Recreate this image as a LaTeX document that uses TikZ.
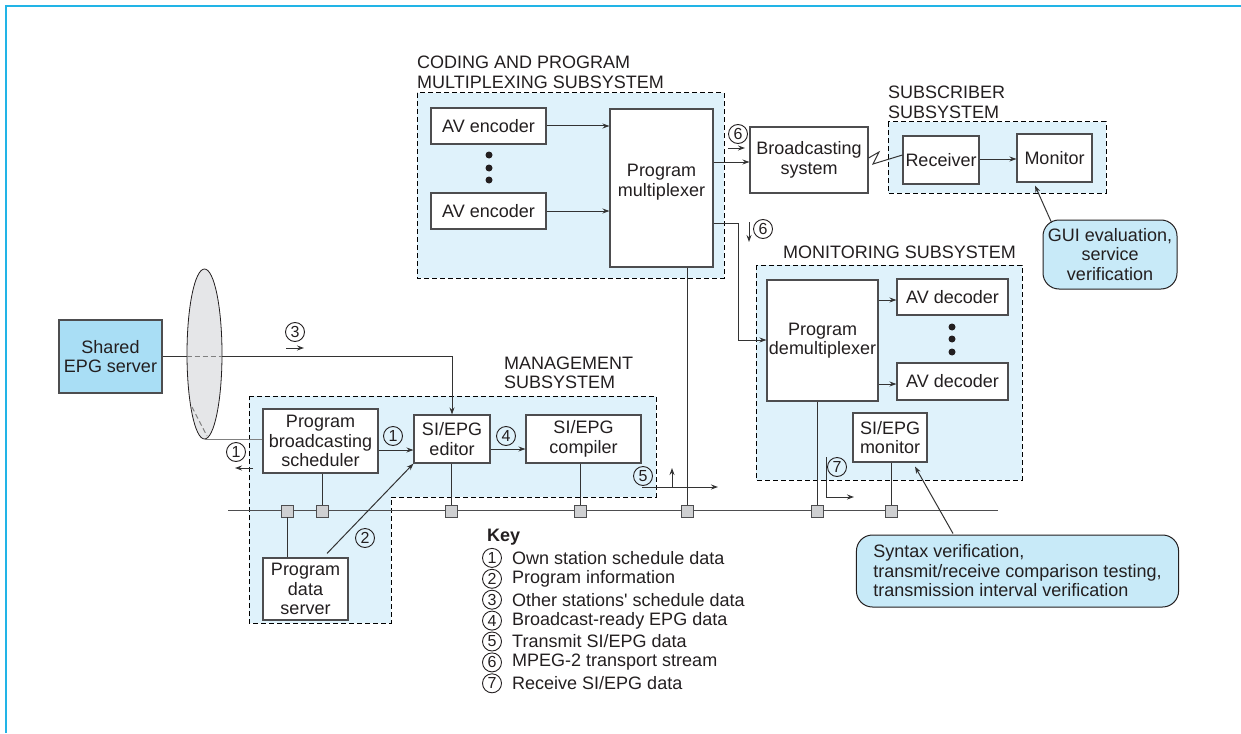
\documentclass[tikz,border=0pt]{standalone}
\usepackage{fontspec}
\setmainfont{Liberation Sans}
\usetikzlibrary{arrows.meta,shapes.geometric,calc}
\definecolor{txt}{HTML}{231F20}
\definecolor{edge}{HTML}{4D4D4F}
\definecolor{wirec}{HTML}{333333}
\definecolor{frame}{HTML}{22B4E6}
\definecolor{regfill}{HTML}{DFF2FB}
\definecolor{srvfill}{HTML}{A9DEF5}
\definecolor{notefill}{HTML}{C8EAF8}
\definecolor{ellfill}{HTML}{E5E6E8}
\definecolor{portfill}{HTML}{CFD0D2}
\begin{document}
\begin{tikzpicture}[x=1pt,y=-1pt,
  every node/.style={text=txt, font=\fontsize{18}{19.5}\selectfont},
  blk/.style={draw=edge, line width=1.1pt, fill=white, inner sep=0pt, align=center},
  region/.style={draw=black, dash pattern=on 5pt off 3pt, line width=1pt, fill=regfill},
  wire/.style={draw=wirec, line width=1pt},
  arr/.style={wire, -{Stealth[length=7pt,width=5pt]}},
  num/.style={circle, draw=txt, line width=0.9pt, inner sep=0pt, minimum size=19pt, font=\fontsize{16}{16}\selectfont},
  port/.style={rectangle, draw=edge, fill=portfill, line width=0.8pt, minimum size=12pt, inner sep=0pt},
  note/.style={rounded corners=16pt, draw=txt, line width=1pt, fill=notefill, inner sep=0pt},
  lbl/.style={anchor=west, align=left, inner sep=0pt},
  dot/.style={circle, fill=txt, inner sep=0pt, minimum size=7pt}
]
\useasboundingbox (0,0) rectangle (1241,733);
% page frame
\draw[frame, line width=2pt] (5.5,733) -- (5.5,6.5) -- (1241,6.5);

% subsystem regions
\path[region] (417,93) rectangle (724,278);
\path[region] (888,122) rectangle (1106,193);
\path[region] (756,265) rectangle (1022,480);
\path[region] (249,396) -- (656,396) -- (656,497) -- (391,497) -- (391,623) -- (249,623) -- cycle;

% subsystem titles
\node[lbl] (tcod) at (417,72.5) {CODING AND PROGRAM\\MULTIPLEXING SUBSYSTEM};
\node[lbl] (tsub) at (888,102.5) {SUBSCRIBER\\SUBSYSTEM};
\node[lbl] (tmon) at (783,252) {MONITORING SUBSYSTEM};
\node[lbl] (tman) at (504,373) {MANAGEMENT\\SUBSYSTEM};

% network bus
\coordinate (busL) at (228,510);
\coordinate (busR) at (998,510);
\draw[wire, draw=edge] (busL) -- (busR);

% shared server link
\node[ellipse, draw=txt, fill=ellfill, line width=0.8pt, minimum width=35pt, minimum height=170pt, inner sep=0pt] (ell) at (204.5,354) {};
\node[blk, fill=srvfill, minimum width=103pt, minimum height=73pt] (epg) at (110.5,356.5) {Shared\\EPG server};

% coding and multiplexing
\node[blk, minimum width=115pt, minimum height=36pt] (enc1) at (488.5,126) {AV encoder};
\node[blk, minimum width=115pt, minimum height=36pt] (enc2) at (488.5,211) {AV encoder};
\node[dot] (d1) at (489,155) {};
\node[dot] (d2) at (489,168) {};
\node[dot] (d3) at (489,180) {};
\node[blk, minimum width=103pt, minimum height=158pt] (mux) at (661.5,188) {Program\\multiplexer\\[-4pt]};
\node[blk, minimum width=118pt, minimum height=66pt] (bcast) at (809,160) {Broadcasting\\system};

% subscriber
\node[blk, minimum width=76pt, minimum height=48pt] (recv) at (941,160) {Receiver};
\node[blk, minimum width=75pt, minimum height=48pt] (moni) at (1054.5,158) {Monitor};
\node[note, align=center, minimum width=134pt, minimum height=69pt] (gui) at (1110,254.5) {GUI evaluation,\\service\\verification};

% monitoring
\node[blk, minimum width=111pt, minimum height=121pt] (demux) at (822.5,340.5) {Program\\demultiplexer};
\node[blk, minimum width=111pt, minimum height=36pt] (dec1) at (952.5,297) {AV decoder};
\node[blk, minimum width=111pt, minimum height=37pt] (dec2) at (952.5,381.5) {AV decoder};
\node[dot] (d4) at (952,327) {};
\node[dot] (d5) at (952,339) {};
\node[dot] (d6) at (952,352) {};
\node[blk, minimum width=74pt, minimum height=49pt] (simon) at (890,437.5) {SI/EPG\\monitor};
\node[note, align=left, inner xsep=17pt, minimum height=72pt] (syn) at (1017.5,571) {Syntax verification,\\transmit/receive comparison testing,\\transmission interval verification};

% management
\node[blk, minimum width=115pt, minimum height=64pt] (sched) at (320.5,441) {Program\\broadcasting\\scheduler};
\node[blk, minimum width=85pt, minimum height=62pt] (pds) at (305.5,589) {Program\\data\\server};
\node[blk, minimum width=76pt, minimum height=48pt] (editor) at (452,439) {SI/EPG\\editor};
\node[blk, minimum width=115pt, minimum height=48pt] (comp) at (583.5,439) {SI/EPG\\compiler};

% bus ports
\node[port] (p1) at (287,511) {};
\node[port] (p2) at (322,511) {};
\node[port] (p3) at (451,511) {};
\node[port] (p4) at (580,511) {};
\node[port] (p5) at (687,511) {};
\node[port] (p6) at (817,511) {};
\node[port] (p7) at (891,511) {};

% bus drops
\draw[wire] (sched.south -| p2) -- (p2.north);
\draw[wire] (pds.north -| p1) -- (p1.south);
\draw[wire] (editor.south -| p3) -- (p3.north);
\draw[wire] (comp.south -| p4) -- (p4.north);
\draw[wire] (mux.south -| p5) -- (p5.north);
\draw[wire] (demux.south -| p6) -- (p6.north);
\draw[wire] (simon.south -| p7) -- (p7.north);

% signal flow
\draw[arr] (enc1.east) -- (enc1.east -| mux.west);
\draw[arr] (enc2.east) -- (enc2.east -| mux.west);
\draw[arr] (mux.east |- 0,162) -- (bcast.west |- 0,162);
\draw[arr] (mux.east |- 0,223) -- (738,223) -- (738,340) -- (demux.west |- 0,340);
\draw[wire] (bcast.east |- 0,158) -- (879,152) -- (873,164) -- (recv.west |- 0,155);
\draw[arr] (recv.east |- 0,159) -- (moni.west |- 0,159);
\draw[arr] (demux.east |- 0,300) -- (dec1.west |- 0,300);
\draw[arr] (demux.east |- 0,384) -- (dec2.west |- 0,384);
\draw[arr] ($(gui.north west)+(9,3)$) -- ($(moni.south)+(-19.5,3)$);
\draw[arr] ($(syn.north)+(-64.5,-1)$) -- ($(simon.south)+(25,4)$);

% shared server path through the cloud
\draw[wire] (epg.east |- 0,356) -- (ell.west |- 0,356);
\draw[wire, draw=gray, dash pattern=on 5pt off 3pt] (ell.west |- 0,356) -- (ell.east |- 0,356);
\draw[arr] (ell.east |- 0,356) -- (editor.north |- 0,356) -- (editor.north);
\draw[wire, draw=gray, dash pattern=on 5pt off 3pt] (192,407) -- (207,436);
\draw[wire, draw=gray] (ell.south) -- (ell.south -| sched.west);

\draw[arr] (sched.east |- 0,450) -- (editor.west |- 0,450);
\draw[arr] (editor.east |- 0,449) -- (comp.west |- 0,449);
\draw[arr] ($(pds.north)+(21.5,-4)$) -- (editor.south west);

% flow markers
\node[num] (c3) at (295,332) {3};
\draw[arr] (286,348) -- (304,348);
\node[num] (c1a) at (393,436) {1};
\node[num] (c4) at (506,436) {4};
\node[num] (c1b) at (236,452) {1};
\draw[arr] (253,468) -- (235,468);
\node[num] (c2) at (365,538) {2};
\node[num] (c5) at (643,476) {5};
\draw[arr] (642,487) -- (718,487);
\draw[arr] (672,487) -- (672,468);
\node[num] (c6a) at (738,134) {6};
\draw[arr] (728,148) -- (745,148);
\node[num] (c6b) at (763,229) {6};
\draw[arr] (749,222) -- (749,242);
\node[num] (c7) at (837,467) {7};
\draw[arr] (826,457) -- (826,497) -- (854,497);

% key
\node[anchor=west, inner sep=0pt, font=\fontsize{18}{19.5}\selectfont\bfseries] (key) at (487,537) {Key};
\foreach \i/\t [count=\k] in {1/{Own station schedule data}, 2/{Program information}, 3/{Other stations\textquotesingle\ schedule data}, 4/{Broadcast-ready EPG data}, 5/{Transmit SI/EPG data}, 6/{MPEG-2 transport stream}, 7/{Receive SI/EPG data}} {
  \node[num] (n\k) at (492,537+20.9*\k) {\i};
  \node[anchor=west, inner sep=0pt] (k\k) at (512,537+20.9*\k) {\t};
}
\end{tikzpicture}
\end{document}
